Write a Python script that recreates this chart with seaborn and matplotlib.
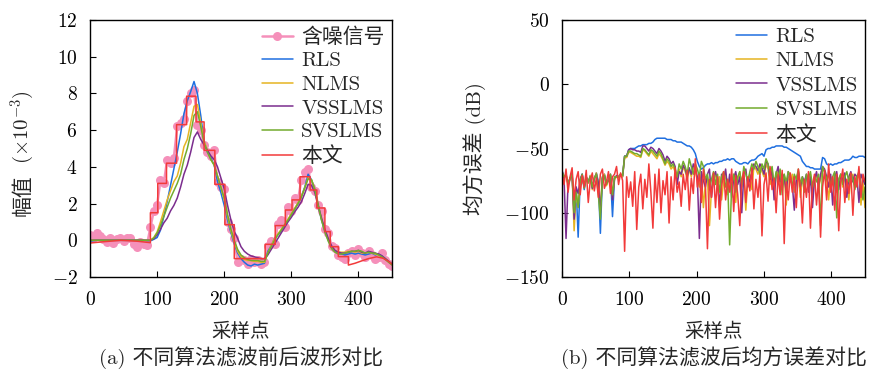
import matplotlib
matplotlib.use("Agg")
import matplotlib.pyplot as plt
import seaborn as sns

# ---------------- waveform panel (amplitude, x10^-3) ----------------
wave_x = list(range(0, 451, 5))

noisy = [0.30, 0.15, 0.40, 0.25, 0.05, -0.10, 0.10, -0.15, 0.05, 0.15,
         -0.05, 0.10, 0.15, -0.20, -0.35, -0.10, -0.20, -0.25, 0.70, 1.60,
         1.90, 3.30, 3.10, 4.40, 4.20, 4.50, 6.20, 6.40, 6.60, 7.60,
         8.00, 8.20, 6.30, 6.00, 5.20, 4.80, 4.60, 4.90, 3.20, 2.90,
         2.80, 1.00, 0.60, 0.10, -1.20, -1.00, -1.10, -1.30, -1.00, -1.20,
         -1.10, -1.30, -1.20, -0.30, -0.05, -0.20, 0.90, 1.10, 0.70, 1.80,
         1.60, 2.30, 2.20, 3.30, 3.70, 3.90, 2.90, 2.70, 1.90, 1.60,
         0.60, 0.40, -0.30, -0.40, -0.80, -0.90, -1.00, -0.70, -0.60, -0.80,
         -0.50, -0.70, -0.90, -0.60, -0.80, -1.00, -0.90, -0.70, -1.10, -1.30,
         -1.40]

rls_wave = [-0.05, -0.02, 0.00, 0.00, 0.00, 0.00, 0.00, 0.00, 0.00, 0.00,
            0.00, 0.00, 0.00, 0.00, 0.00, 0.00, 0.00, -0.02, -0.03, 0.05,
            0.15, 0.55, 1.30, 2.10, 3.00, 3.90, 4.80, 5.80, 6.90, 7.60,
            8.10, 8.65, 8.00, 6.80, 5.40, 4.80, 4.50, 4.10, 3.20, 2.60,
            1.90, 1.10, 0.40, -0.20, -0.70, -1.00, -1.20, -1.35, -1.40, -1.30,
            -1.35, -1.30, -1.25, -0.60, -0.30, 0.10, 0.30, 0.50, 0.80, 1.10,
            1.40, 1.70, 2.00, 2.40, 2.90, 3.60, 3.30, 2.80, 1.90, 1.10,
            0.50, 0.00, -0.40, -0.60, -0.70, -0.75, -0.80, -0.75, -0.70, -0.75,
            -0.70, -0.75, -0.80, -0.75, -0.70, -0.80, -0.75, -0.85, -1.00, -1.15,
            -1.30]

nlms_wave = [0.00, 0.00, 0.00, 0.00, 0.00, 0.00, 0.00, 0.00, 0.00, 0.00,
             0.00, 0.00, 0.00, 0.00, 0.00, 0.00, 0.00, 0.00, 0.00, 0.15,
             0.45, 1.00, 1.60, 2.20, 2.70, 3.20, 3.50, 4.20, 5.10, 5.50,
             6.40, 7.30, 7.40, 6.40, 5.40, 4.90, 4.40, 4.10, 3.50, 2.90,
             2.20, 1.30, 0.50, -0.10, -0.60, -0.90, -1.05, -1.10, -1.10, -1.15,
             -1.15, -1.20, -1.20, -0.70, -0.30, 0.10, 0.35, 0.60, 0.85, 1.15,
             1.45, 1.75, 2.05, 2.40, 2.85, 3.40, 3.30, 2.80, 1.95, 1.15,
             0.55, 0.05, -0.35, -0.55, -0.65, -0.65, -0.65, -0.60, -0.60, -0.65,
             -0.60, -0.70, -0.70, -0.65, -0.70, -0.75, -0.80, -0.90, -1.00, -1.15,
             -1.30]

vsslms_wave = [0.00, 0.00, 0.00, 0.00, 0.00, 0.00, 0.00, 0.00, 0.00, 0.00,
               0.00, 0.00, 0.00, 0.00, 0.00, 0.00, 0.00, 0.00, 0.00, 0.08,
               0.30, 0.60, 0.95, 1.20, 1.60, 1.90, 2.30, 2.90, 3.60, 4.10,
               4.80, 5.60, 5.90, 5.50, 5.20, 4.90, 4.60, 4.40, 4.00, 3.40,
               2.80, 1.90, 1.10, 0.50, 0.10, -0.35, -0.60, -0.75, -0.85, -0.90,
               -0.95, -1.00, -1.00, -0.80, -0.50, -0.20, 0.10, 0.40, 0.70, 1.00,
               1.25, 1.55, 1.80, 2.10, 2.55, 3.05, 3.00, 2.60, 1.90, 1.20,
               0.60, 0.10, -0.30, -0.55, -0.65, -0.70, -0.70, -0.65, -0.60, -0.60,
               -0.55, -0.65, -0.70, -0.60, -0.65, -0.70, -0.75, -0.85, -1.00, -1.15,
               -1.30]

svslms_wave = [0.00, 0.00, 0.00, 0.00, 0.00, 0.00, 0.00, 0.00, 0.00, 0.00,
               0.00, 0.00, 0.00, 0.00, 0.00, 0.00, 0.00, 0.00, 0.00, 0.12,
               0.40, 0.80, 1.30, 1.80, 2.30, 2.70, 3.10, 3.60, 4.40, 5.00,
               5.80, 6.80, 7.00, 6.20, 5.30, 4.80, 4.40, 4.10, 3.50, 2.90,
               2.30, 1.40, 0.60, 0.00, -0.50, -0.80, -0.95, -1.05, -1.10, -1.10,
               -1.10, -1.15, -1.15, -0.70, -0.35, 0.00, 0.30, 0.55, 0.85, 1.10,
               1.40, 1.70, 2.00, 2.35, 2.85, 3.35, 3.30, 2.75, 1.90, 1.10,
               0.45, -0.05, -0.45, -0.65, -0.75, -0.75, -0.70, -0.65, -0.60, -0.60,
               -0.55, -0.60, -0.70, -0.65, -0.70, -0.70, -0.80, -0.90, -1.05, -1.20,
               -1.35]

# proposed filter output: vertices of its stepped trace
ours_x = [0, 20, 46, 70, 90, 90, 101, 101, 114, 114, 129, 129, 144, 144,
          158, 158, 170, 170, 186, 186, 201, 201, 215, 215, 261, 261, 276, 276,
          291, 291, 301, 301, 313, 313, 328, 328, 338, 338, 350, 350, 358, 358,
          370, 370, 385, 385, 395, 405, 415, 427, 437, 445, 450]
ours_y = [-0.15, -0.08, 0.00, -0.05, -0.13, 1.50, 1.50, 3.10, 3.10, 4.20, 4.20,
          6.30, 6.30, 7.85, 7.85, 6.45, 6.45, 4.90, 4.90, 3.05, 3.05, 0.85, 0.85,
          -1.00, -1.00, -0.22, -0.22, 0.80, 0.80, 1.65, 1.65, 2.20, 2.20, 3.46,
          3.46, 2.74, 2.74, 1.76, 1.76, 0.47, 0.47, -0.35, -0.35, -0.89, -0.89,
          -1.35, -1.25, -1.12, -1.00, -0.90, -0.98, -1.15, -1.30]

# ---------------- mean square error panel (dB) ----------------
mse_x = list(range(0, 451, 3))

mse_rls = [-67, -72, -70, -78, -74, -69, -106, -80, -119, -75,
           -70, -82, -73, -77, -71, -80, -74, -69, -76, -116,
           -72, -70, -78, -74, -71, -103, -73, -72, -72, -71,
           -72, -56, -56, -51, -50, -50, -50, -49, -48, -48,
           -47, -47, -47, -46, -46, -45, -43, -42, -42, -42,
           -42, -42, -43, -43, -43, -44, -44, -45, -45, -45,
           -46, -47, -48, -48, -49, -51, -54, -60, -64, -66,
           -65, -63, -62, -62, -61, -62, -61, -61, -60, -60,
           -59, -59, -58, -59, -58, -58, -60, -61, -62, -62,
           -61, -61, -62, -60, -59, -59, -58, -56, -55, -54,
           -56, -51, -50, -50, -49, -49, -48, -48, -48, -48,
           -49, -49, -50, -51, -52, -53, -54, -55, -56, -60,
           -62, -64, -64, -65, -65, -66, -66, -66, -66, -57,
           -58, -62, -63, -62, -63, -62, -62, -61, -61, -60,
           -59, -59, -59, -58, -56, -57, -57, -56, -56, -56,
           -57]

mse_nlms = [-69, -73, -70, -78, -74, -70, -114, -85, -95, -76,
            -71, -80, -73, -77, -71, -82, -74, -69, -78, -96,
            -72, -70, -79, -75, -71, -88, -74, -72, -73, -71,
            -72, -57, -57, -53, -53, -54, -55, -56, -56, -57,
            -51, -52, -54, -56, -52, -54, -56, -58, -54, -56,
            -59, -63, -60, -62, -66, -64, -68, -74, -66, -72,
            -64, -68, -74, -66, -72, -64, -68, -74, -80, -70,
            -96, -76, -72, -110, -82, -74, -70, -80, -72, -90,
            -76, -70, -86, -74, -79, -70, -92, -74, -68, -80,
            -72, -98, -74, -70, -82, -64, -66, -70, -64, -68,
            -72, -62, -66, -78, -70, -84, -72, -68, -80, -74,
            -70, -94, -72, -76, -70, -84, -76, -70, -88, -74,
            -80, -72, -76, -70, -86, -74, -70, -80, -74, -66,
            -68, -74, -90, -72, -78, -70, -84, -74, -70, -80,
            -72, -76, -90, -72, -70, -78, -74, -70, -94, -76,
            -96]

mse_vsslms = [-68, -73, -120, -77, -73, -70, -105, -80, -85, -74,
              -70, -80, -72, -76, -72, -81, -73, -70, -77, -100,
              -73, -71, -77, -75, -70, -90, -73, -71, -72, -70,
              -71, -56, -56, -51, -50, -51, -51, -52, -52, -53,
              -48, -48, -50, -52, -49, -50, -52, -54, -50, -52,
              -55, -60, -56, -58, -62, -60, -64, -78, -68, -70,
              -63, -66, -72, -65, -70, -62, -66, -72, -120, -68,
              -75, -80, -70, -66, -88, -72, -68, -76, -95, -70,
              -74, -66, -82, -70, -88, -73, -68, -78, -72, -100,
              -70, -66, -80, -74, -69, -62, -64, -67, -62, -65,
              -70, -60, -62, -74, -66, -90, -70, -64, -76, -70,
              -72, -84, -68, -72, -78, -98, -74, -68, -80, -72,
              -76, -70, -84, -72, -96, -74, -68, -80, -70, -64,
              -66, -72, -80, -70, -94, -72, -68, -82, -70, -75,
              -69, -88, -72, -68, -76, -70, -72, -92, -70, -74,
              -78]

mse_svslms = [-68, -72, -71, -77, -73, -70, -100, -84, -96, -75,
              -70, -81, -72, -76, -72, -80, -73, -70, -86, -105,
              -73, -71, -78, -74, -70, -86, -72, -72, -72, -70,
              -71, -56, -56, -52, -52, -53, -54, -54, -55, -56,
              -50, -51, -53, -55, -51, -52, -54, -56, -52, -54,
              -58, -62, -58, -60, -64, -62, -66, -72, -62, -66,
              -60, -64, -70, -58, -64, -70, -62, -66, -72, -60,
              -64, -74, -70, -82, -74, -68, -78, -70, -84, -72,
              -68, -80, -74, -125, -78, -70, -84, -72, -68, -78,
              -64, -70, -76, -68, -62, -66, -60, -64, -70, -62,
              -66, -58, -62, -70, -64, -78, -68, -74, -66, -86,
              -70, -76, -68, -72, -80, -70, -74, -66, -78, -72,
              -84, -70, -74, -68, -80, -72, -76, -70, -110, -64,
              -68, -74, -70, -80, -72, -68, -104, -74, -70, -78,
              -72, -68, -76, -70, -74, -82, -72, -68, -78, -90,
              -80]

mse_ours = [-70, -78, -66, -84, -72, -65, -90, -74, -68, -86,
            -71, -80, -67, -92, -75, -69, -83, -73, -88, -70,
            -66, -81, -76, -68, -85, -72, -70, -64, -78, -69,
            -75, -130, -72, -88, -76, -95, -68, -113, -80, -70,
            -97, -74, -88, -62, -84, -112, -70, -92, -66, -100,
            -75, -86, -68, -108, -72, -90, -65, -84, -76, -95,
            -70, -82, -67, -98, -73, -85, -58, -80, -70, -92,
            -66, -78, -128, -74, -88, -69, -96, -72, -105, -80,
            -68, -90, -74, -84, -66, -99, -71, -86, -110, -75,
            -68, -92, -72, -83, -65, -97, -74, -88, -70, -118,
            -78, -69, -91, -64, -82, -73, -100, -70, -86, -67,
            -124, -76, -90, -69, -84, -72, -96, -66, -80, -108,
            -74, -88, -68, -112, -78, -70, -94, -73, -119, -80,
            -67, -90, -62, -84, -72, -98, -70, -114, -76, -66,
            -92, -74, -85, -69, -102, -72, -80, -64, -88, -70,
            -76]

labels_filters = ["RLS", "NLMS", "VSSLMS", "SVSLMS", "本文"]
label_noisy = "含噪信号"
colors = {"RLS": "#1f6fe0", "NLMS": "#e6b422", "VSSLMS": "#7b2d8e",
          "SVSLMS": "#73ab2e", "本文": "#f23a3a"}
pink = "#f590ba"

sns.set_theme(style="white")
plt.rcParams["font.family"] = ["cmr10", "Noto Sans CJK SC", "DejaVu Serif"]
plt.rcParams["mathtext.fontset"] = "cm"
plt.rcParams["axes.formatter.use_mathtext"] = True
plt.rcParams["axes.unicode_minus"] = True

fig = plt.figure(figsize=(8.7, 3.8), dpi=100)
ax1 = fig.add_axes([90 / 870, 1 - 277 / 380, 302 / 870, 257 / 380])
ax2 = fig.add_axes([562 / 870, 1 - 277 / 380, 303 / 870, 257 / 380])

lw = 1.1
sns.lineplot(x=wave_x, y=noisy, ax=ax1, color=pink, lw=1.8, marker="o",
             markersize=6.5, markeredgewidth=0, estimator=None, sort=False,
             label=label_noisy)
for name, vals in zip(labels_filters[:4], [rls_wave, nlms_wave, vsslms_wave, svslms_wave]):
    sns.lineplot(x=wave_x, y=vals, ax=ax1, color=colors[name], lw=lw,
                 estimator=None, sort=False, label=name)
sns.lineplot(x=ours_x, y=ours_y, ax=ax1, color=colors["本文"], lw=lw,
             estimator=None, sort=False, label="本文")

for name, vals in zip(labels_filters, [mse_rls, mse_nlms, mse_vsslms, mse_svslms, mse_ours]):
    sns.lineplot(x=mse_x, y=vals, ax=ax2, color=colors[name], lw=lw,
                 estimator=None, sort=False, label=name)

ax1.set_xlim(0, 450)
ax1.set_ylim(-2, 12)
ax1.set_yticks(range(-2, 13, 2))
ax2.set_xlim(0, 450)
ax2.set_ylim(-150, 50)
ax2.set_yticks(range(-150, 51, 50))

for ax, spacing in ((ax1, 0.24), (ax2, 0.28)):
    ax.set_xticks(range(0, 401, 100))
    for sp in ax.spines.values():
        sp.set_color("black")
        sp.set_linewidth(1.0)
    ax.tick_params(axis="both", direction="in", length=4, width=0.8,
                   colors="black", labelsize=14, bottom=True, left=True,
                   top=False, right=False)
    ax.tick_params(axis="x", pad=10)
    ax.tick_params(axis="y", pad=9)
    ax.set_xlabel("采样点", fontsize=14, labelpad=10)
    ax.legend(loc="upper right", frameon=False, fontsize=15, handlelength=1.5,
              handletextpad=0.4, labelspacing=spacing, borderaxespad=0.15,
              borderpad=0.2)

# left y label: Chinese word plus the scale factor written in math mode
ax1.text(-0.222, 0.318, "幅值", rotation=90, fontsize=15,
         ha="center", va="center", transform=ax1.transAxes)
ax1.text(-0.222, 0.585, r"($\times10^{-3}$)", rotation=90, fontsize=15,
         ha="center", va="center", transform=ax1.transAxes)
ax2.set_ylabel("均方误差 (dB)", fontsize=15)
ax2.yaxis.set_label_coords(-0.25, 0.5)

fig.text(241 / 870, 1 - 358 / 380, "(a) 不同算法滤波前后波形对比", fontsize=15,
         ha="center", va="center")
fig.text(714 / 870, 1 - 358 / 380, "(b) 不同算法滤波后均方误差对比", fontsize=15,
         ha="center", va="center")

fig.savefig("out.png", dpi=100, facecolor="white")
